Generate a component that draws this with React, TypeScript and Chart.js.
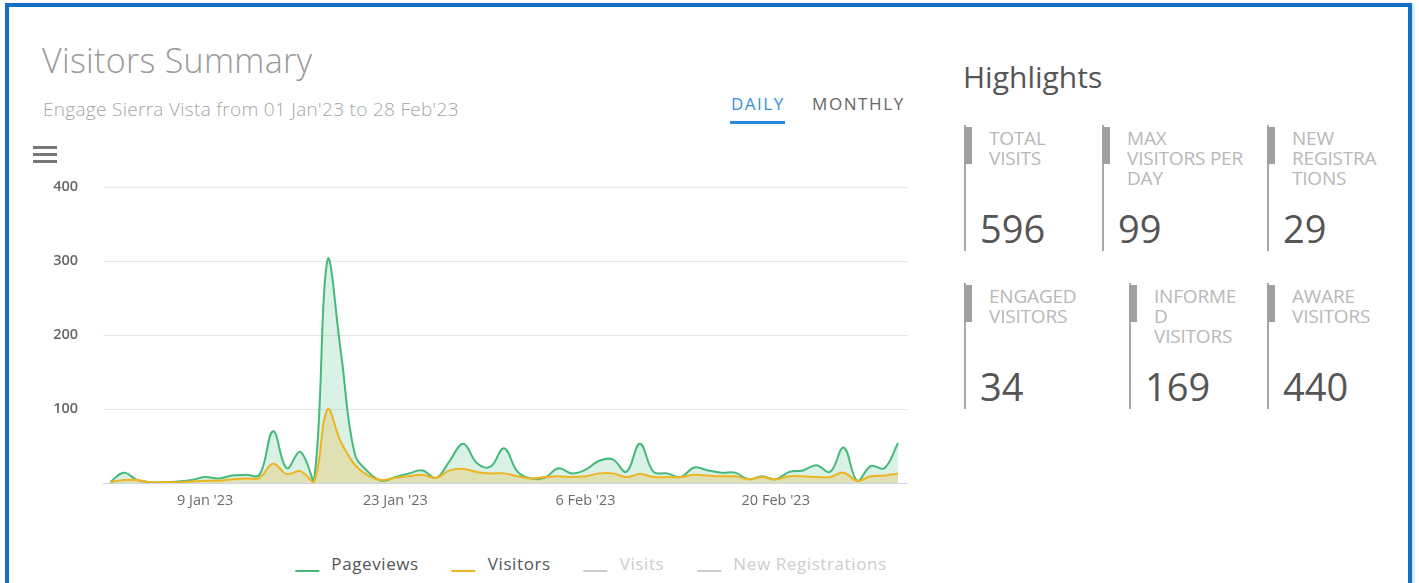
import React, { useEffect, useRef } from "react";
import { Chart, registerables } from "chart.js";

Chart.register(...registerables);

// ---- data ----
const dayLabels = [
  "2 Jan '23", "3 Jan '23", "4 Jan '23", "5 Jan '23", "6 Jan '23", "7 Jan '23", "8 Jan '23",
  "9 Jan '23", "10 Jan '23", "11 Jan '23", "12 Jan '23", "13 Jan '23", "14 Jan '23", "15 Jan '23",
  "16 Jan '23", "17 Jan '23", "18 Jan '23", "19 Jan '23", "20 Jan '23", "21 Jan '23", "22 Jan '23",
  "23 Jan '23", "24 Jan '23", "25 Jan '23", "26 Jan '23", "27 Jan '23", "28 Jan '23", "29 Jan '23",
  "30 Jan '23", "31 Jan '23", "1 Feb '23", "2 Feb '23", "3 Feb '23", "4 Feb '23", "5 Feb '23",
  "6 Feb '23", "7 Feb '23", "8 Feb '23", "9 Feb '23", "10 Feb '23", "11 Feb '23", "12 Feb '23",
  "13 Feb '23", "14 Feb '23", "15 Feb '23", "16 Feb '23", "17 Feb '23", "18 Feb '23", "19 Feb '23",
  "20 Feb '23", "21 Feb '23", "22 Feb '23", "23 Feb '23", "24 Feb '23", "25 Feb '23", "26 Feb '23",
  "27 Feb '23", "28 Feb '23", "1 Mar '23",
];

const pageviews = [
  1, 14, 4, 1, 1, 2, 4, 8, 6, 10, 11, 11, 70, 20, 42, 2, 301, 175, 40, 15,
  3, 8, 13, 17, 7, 30, 53, 27, 22, 47, 15, 6, 7, 20, 13, 18, 30, 32, 15, 53,
  15, 13, 8, 21, 17, 14, 14, 5, 9, 5, 15, 17, 24, 15, 48, 3, 23, 20, 54,
];

const visitors = [
  1, 4, 4, 1, 1, 1, 2, 3, 3, 5, 6, 7, 26, 12, 16, 1, 99, 55, 25, 10,
  4, 7, 9, 11, 7, 17, 19, 15, 13, 13, 9, 6, 8, 9, 8, 9, 13, 13, 8, 12,
  8, 8, 8, 11, 10, 9, 9, 5, 8, 5, 9, 9, 8, 8, 14, 3, 9, 10, 13,
];

const xTickLabels = ["9 Jan '23", "23 Jan '23", "6 Feb '23", "20 Feb '23"];
const yTickValues = [0, 100, 200, 300, 400];

const seriesNames = ["Pageviews", "Visitors", "Visits", "New Registrations"];
const seriesHidden = [false, false, true, true];
const seriesColors = ["#45b97c", "#eeb422", "#cccccc", "#cccccc"];

const highlightLabels = [
  ["TOTAL", "VISITS"],
  ["MAX", "VISITORS PER", "DAY"],
  ["NEW", "REGISTRA", "TIONS"],
  ["ENGAGED", "VISITORS"],
  ["INFORME", "D", "VISITORS"],
  ["AWARE", "VISITORS"],
];
const highlightValues = ["596", "99", "29", "34", "169", "440"];

// ---- components ----
function Card({ x, y, lines, value }: { x: number; y: number; lines: string[]; value: string }) {
  return (
    <div style={{ position: "absolute", left: x, top: y, width: 140, height: 126 }}>
      <div style={{ position: "absolute", left: 0, top: 0, width: 1.5, height: 126, background: "#a8a8a8" }} />
      <div style={{ position: "absolute", left: 0, top: 2, width: 8, height: 37, background: "#a0a0a0" }} />
      <div
        style={{
          position: "absolute",
          left: 25,
          top: 3,
          fontSize: 19,
          lineHeight: "20px",
          color: "#b8b8b8",
          whiteSpace: "nowrap",
          letterSpacing: -0.2,
        }}
      >
        {lines.map((l, i) => (
          <div key={i}>{l}</div>
        ))}
      </div>
      <div
        style={{
          position: "absolute",
          left: 16,
          top: 78,
          fontSize: 38,
          lineHeight: "50px",
          color: "#555",
          whiteSpace: "nowrap",
        }}
      >
        {value}
      </div>
    </div>
  );
}

export default function App() {
  const canvasRef = useRef<HTMLCanvasElement | null>(null);

  useEffect(() => {
    const canvas = canvasRef.current;
    if (!canvas) return;
    const chart = new Chart(canvas, {
      type: "line",
      data: {
        datasets: [
          {
            label: seriesNames[1],
            data: visitors.map((v, i) => ({ x: i, y: v })),
            borderColor: seriesColors[1],
            backgroundColor: "rgba(238,180,34,0.25)",
            fill: "origin",
          },
          {
            label: seriesNames[0],
            data: pageviews.map((v, i) => ({ x: i, y: v })),
            borderColor: seriesColors[0],
            backgroundColor: "rgba(69,185,124,0.2)",
            fill: "origin",
          },
          { label: seriesNames[2], data: [], hidden: true },
          { label: seriesNames[3], data: [], hidden: true },
        ],
      },
      options: {
        animation: false,
        responsive: false,
        maintainAspectRatio: false,
        layout: { padding: { left: 0, right: 23, top: 17, bottom: 0 } },
        plugins: { legend: { display: false }, tooltip: { enabled: false } },
        elements: {
          point: { radius: 0 },
          line: { tension: 0.4, borderWidth: 2 },
        },
        scales: {
          x: {
            type: "linear",
            min: -0.52,
            max: 58.66,
            grid: { display: false, drawTicks: false },
            border: { display: true, color: "#ccd6eb", width: 1 },
            afterFit: (s: any) => {
              s.height = 27;
              s.paddingLeft = 0;
              s.paddingRight = 0;
            },
            afterBuildTicks: (s: any) => {
              s.ticks = xTickLabels.map((t) => ({ value: dayLabels.indexOf(t) }));
            },
            ticks: {
              autoSkip: false,
              maxRotation: 0,
              padding: 9,
              color: "#6b6b6b",
              font: { family: "'Open Sans', sans-serif", size: 14.5 },
              callback: (v: any) => dayLabels[v as number] ?? "",
            },
          },
          y: {
            min: 0,
            max: 400,
            afterBuildTicks: (s: any) => {
              s.ticks = yTickValues.map((v) => ({ value: v }));
            },
            grid: { color: "#e6e6e6", drawTicks: false },
            border: { display: false },
            afterFit: (s: any) => {
              s.width = 103;
              s.paddingTop = 0;
              s.paddingBottom = 0;
            },
            ticks: {
              padding: 25,
              color: "#666",
              font: { family: "'Open Sans', sans-serif", size: 14.5, weight: "600" },
              callback: (v: any) => (v === 0 ? "" : String(v)),
            },
          },
        },
      },
    });
    return () => chart.destroy();
  }, []);

  const cardPos = [
    [964, 125],
    [1102, 125],
    [1267, 125],
    [964, 283],
    [1129, 283],
    [1267, 283],
  ];

  return (
    <div
      style={{
        position: "absolute",
        left: 0,
        top: 0,
        width: 1419,
        height: 583,
        overflow: "hidden",
        background: "#fff",
        fontFamily: "'Open Sans', sans-serif",
      }}
    >
      <div
        style={{
          position: "absolute",
          left: 5,
          top: 3,
          width: 1407,
          height: 620,
          border: "4px solid #1470c2",
          boxSizing: "border-box",
          boxShadow: "2px 1px 3px rgba(20,112,194,0.25)",
        }}
      />
      <div
        style={{
          position: "absolute",
          left: 42,
          top: 37,
          fontSize: 34,
          fontWeight: 300,
          color: "#9a9a9a",
          whiteSpace: "nowrap",
          lineHeight: "46px",
          letterSpacing: 0.3,
        }}
      >
        Visitors Summary
      </div>
      <div
        style={{
          position: "absolute",
          left: 43,
          top: 96,
          fontSize: 19,
          fontWeight: 300,
          color: "#a5a5a5",
          whiteSpace: "nowrap",
          lineHeight: "26px",
          letterSpacing: 0.3,
        }}
      >
        Engage Sierra Vista from 01 Jan'23 to 28 Feb'23
      </div>
      {[146, 153, 160].map((t) => (
        <div key={t} style={{ position: "absolute", left: 33, top: t, width: 24, height: 3, background: "#777" }} />
      ))}
      <div
        style={{
          position: "absolute",
          left: 731,
          top: 93,
          fontSize: 17,
          color: "#3a8fdc",
          letterSpacing: 1.5,
          lineHeight: "22px",
        }}
      >
        DAILY
      </div>
      <div style={{ position: "absolute", left: 730, top: 121, width: 55, height: 3, background: "#2b87e0" }} />
      <div
        style={{
          position: "absolute",
          left: 812,
          top: 93,
          fontSize: 17,
          color: "#666",
          letterSpacing: 1.6,
          lineHeight: "22px",
        }}
      >
        MONTHLY
      </div>

      <canvas
        ref={canvasRef}
        width={930}
        height={340}
        style={{ position: "absolute", left: 0, top: 170, width: 930, height: 340 }}
      />

      <div
        style={{
          position: "absolute",
          left: 591,
          top: 552,
          transform: "translateX(-50%)",
          display: "flex",
          alignItems: "center",
          whiteSpace: "nowrap",
          fontSize: 17,
          letterSpacing: 0.6,
          lineHeight: "24px",
        }}
      >
        {seriesNames.map((n, i) => (
          <div key={n} style={{ display: "flex", alignItems: "center", marginLeft: i === 0 ? 0 : 33 }}>
            <div
              style={{
                width: 24,
                height: 2,
                marginTop: 14,
                background: seriesColors[i],
                marginRight: 12,
              }}
            />
            <span style={{ color: seriesHidden[i] ? "#cccccc" : "#555" }}>{n}</span>
          </div>
        ))}
      </div>

      <div
        style={{
          position: "absolute",
          left: 963,
          top: 57,
          fontSize: 30,
          color: "#555",
          lineHeight: "40px",
          whiteSpace: "nowrap",
        }}
      >
        Highlights
      </div>
      {highlightLabels.map((lines, i) => (
        <Card key={i} x={cardPos[i][0]} y={cardPos[i][1]} lines={lines} value={highlightValues[i]} />
      ))}
    </div>
  );
}
